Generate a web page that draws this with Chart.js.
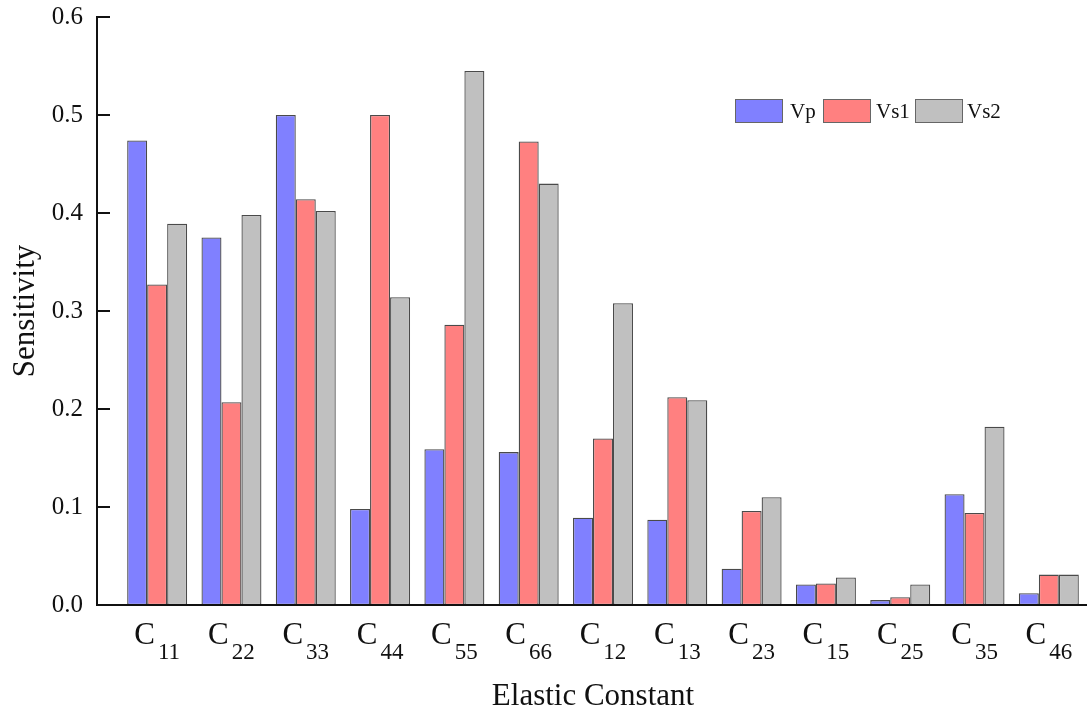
<!DOCTYPE html>
<html>
<head>
<meta charset="utf-8">
<script src="https://cdn.jsdelivr.net/npm/chart.js@4"></script>
<style>
  html, body { margin: 0; padding: 0; background: #fff; }
  #wrap { width: 1089px; height: 715px; }
</style>
</head>
<body>
<div id="wrap"><canvas id="chart" width="1089" height="715"></canvas></div>
<script>
const categories = ["C11", "C22", "C33", "C44", "C55", "C66", "C12", "C13", "C23", "C15", "C25", "C35", "C46"];
const vp  = [0.474, 0.375, 0.500, 0.098, 0.159, 0.156, 0.089, 0.087, 0.037, 0.021, 0.005, 0.113, 0.012];
const vs1 = [0.327, 0.207, 0.414, 0.500, 0.286, 0.473, 0.170, 0.212, 0.096, 0.022, 0.008, 0.094, 0.031];
const vs2 = [0.389, 0.398, 0.402, 0.314, 0.545, 0.430, 0.308, 0.209, 0.110, 0.028, 0.021, 0.182, 0.031];
const yTicks = [0.0, 0.1, 0.2, 0.3, 0.4, 0.5, 0.6];

const serif = "'Liberation Serif', 'Times New Roman', serif";
const ink = "#111";

// axes, inward ticks, subscript labels, titles and legend
const decor = {
  id: "decor",
  afterDraw(chart) {
    const ctx = chart.ctx;
    const area = chart.chartArea;
    const x = chart.scales.x, y = chart.scales.y;
    const axisX = area.left - 23;
    ctx.save();
    ctx.strokeStyle = ink;
    ctx.lineWidth = 2;
    ctx.beginPath();
    ctx.moveTo(axisX, area.top - 1);
    ctx.lineTo(axisX, area.bottom);
    ctx.lineTo(area.right + 1, area.bottom);
    ctx.stroke();
    yTicks.forEach(v => {
      const py = y.getPixelForValue(v);
      ctx.beginPath();
      ctx.moveTo(axisX, py);
      ctx.lineTo(axisX + 13, py);
      ctx.stroke();
    });

    ctx.fillStyle = ink;
    categories.forEach((c, i) => {
      const cx = x.getPixelForValue(i);
      const main = c[0], sub = c.slice(1);
      ctx.font = "31px " + serif;
      const wm = ctx.measureText(main).width;
      ctx.font = "23px " + serif;
      const ws = ctx.measureText(sub).width;
      const gap = 3;
      const left = cx - (wm + gap + ws) / 2;
      ctx.textAlign = "left";
      ctx.textBaseline = "alphabetic";
      ctx.font = "31px " + serif;
      ctx.fillText(main, left, 644);
      ctx.font = "23px " + serif;
      ctx.fillText(sub, left + wm + gap, 659);
    });

    ctx.font = "31px " + serif;
    ctx.textAlign = "center";
    ctx.fillText("Elastic Constant", 593, 705);

    ctx.save();
    ctx.translate(34, 311);
    ctx.rotate(-Math.PI / 2);
    ctx.font = "31px " + serif;
    ctx.fillText("Sensitivity", 0, 0);
    ctx.restore();

    const items = [[735, 790], [823, 876], [915, 967]];
    chart.data.datasets.forEach((ds, i) => {
      const [bx, tx] = items[i];
      ctx.fillStyle = ds.backgroundColor;
      ctx.fillRect(bx, 99, 47, 23);
      ctx.strokeStyle = "#666";
      ctx.lineWidth = 1;
      ctx.strokeRect(bx + 0.5, 99.5, 47, 23);
      ctx.fillStyle = ink;
      ctx.font = "21px " + serif;
      ctx.textAlign = "left";
      ctx.fillText(ds.label, tx, 118);
    });
    ctx.restore();
  }
};

new Chart(document.getElementById("chart"), {
  type: "bar",
  data: {
    labels: categories,
    datasets: [
      { label: "Vp",  data: vp,  backgroundColor: "#8080ff" },
      { label: "Vs1", data: vs1, backgroundColor: "#ff8080" },
      { label: "Vs2", data: vs2, backgroundColor: "#c0c0c0" }
    ]
  },
  options: {
    responsive: false,
    animation: false,
    layout: { padding: { top: 17, right: 3, left: 0, bottom: 0 } },
    datasets: {
      bar: { categoryPercentage: 0.807, barPercentage: 1.0, borderWidth: 1.3, borderColor: "#4a4a4a", borderSkipped: false }
    },
    plugins: { legend: { display: false }, tooltip: { enabled: false } },
    scales: {
      x: {
        grid: { display: false },
        border: { display: false },
        ticks: { display: false },
        afterFit(s) { s.height = 110; s.paddingLeft = 0; s.paddingRight = 0; }
      },
      y: {
        min: 0,
        max: 0.6,
        grid: { display: false, drawTicks: false },
        border: { display: false },
        afterFit(s) { s.width = 120; s.paddingTop = 0; s.paddingBottom = 0; },
        afterBuildTicks(s) { s.ticks = yTicks.map(v => ({ value: v })); },
        ticks: {
          padding: 37,
          color: ink,
          font: { family: serif, size: 25 },
          callback: v => v.toFixed(1)
        }
      }
    }
  },
  plugins: [decor]
});
</script>
</body>
</html>
